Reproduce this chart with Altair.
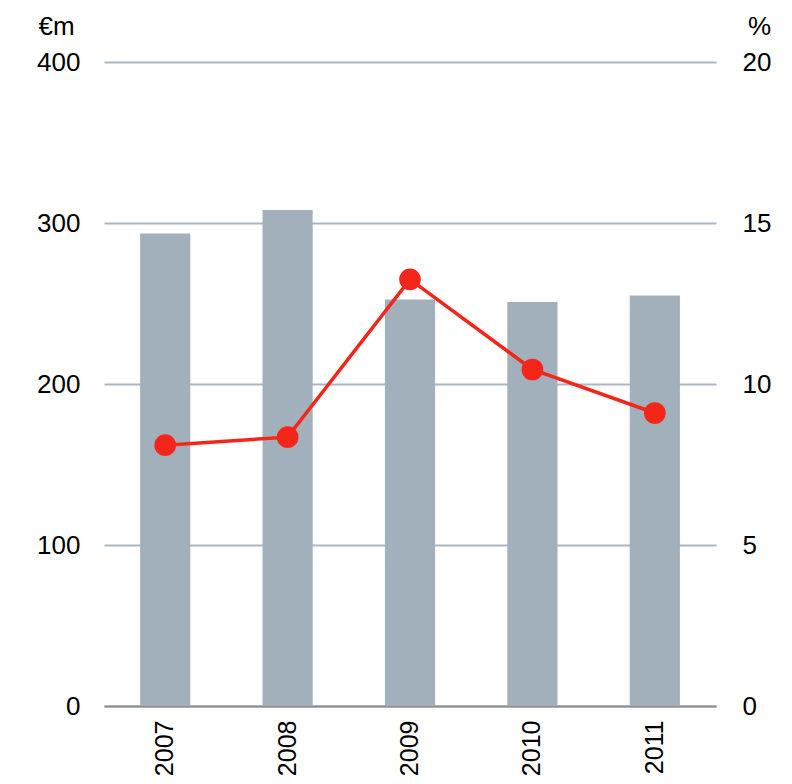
import altair as alt
import pandas as pd

years = ["2007", "2008", "2009", "2010", "2011"]
value_eur_m = [293.5, 308, 252.5, 251, 255]
margin_pct = [8.1, 8.35, 13.25, 10.45, 9.1]

df = pd.DataFrame({"year": years, "value": value_eur_m, "pct": margin_pct})

FONT = "Liberation Sans"
FS = 26

x = alt.X("year:N", title=None,
          scale=alt.Scale(paddingInner=0.59, paddingOuter=0.295),
          axis=alt.Axis(labelAngle=270, labelFontSize=25, labelFont=FONT, labelColor="#000000",
                        labelPadding=14, ticks=False, domain=True, domainColor="#8c8c8c",
                        domainWidth=2, grid=False))

bars = alt.Chart(df).mark_bar(color="#a2b0bc").encode(
    x=x,
    y=alt.Y("value:Q", scale=alt.Scale(domain=[0, 400], nice=False),
            axis=alt.Axis(values=[0, 100, 200, 300, 400], title="€m", titleAngle=0,
                          titleAlign="center", titleBaseline="alphabetic",
                          titleX=-48, titleY=-28, titleFontSize=FS, titleFont=FONT,
                          titleFontWeight="normal", titleColor="#000000",
                          labelFontSize=FS, labelFont=FONT, labelColor="#000000",
                          labelPadding=24, ticks=False, domain=False,
                          grid=True, gridColor="#a9b6c3", gridWidth=2))
)

line_y = alt.Y("pct:Q", scale=alt.Scale(domain=[0, 20], nice=False),
               axis=alt.Axis(values=[0, 5, 10, 15, 20], orient="right", title="%", titleAngle=0,
                             titleAlign="center", titleBaseline="alphabetic",
                             titleX=43, titleY=-28, titleFontSize=FS, titleFont=FONT,
                             titleFontWeight="normal", titleColor="#000000",
                             labelFontSize=FS, labelFont=FONT, labelColor="#000000",
                             labelPadding=26, ticks=False, domain=False, grid=False))

line = alt.Chart(df).mark_line(color="#f4261a", strokeWidth=3.5).encode(x=x, y=line_y)
points = alt.Chart(df).mark_point(filled=True, color="#f4261a", size=470, opacity=1).encode(x=x, y=line_y)

right = alt.layer(line, points)

chart = alt.layer(bars, right).resolve_scale(y="independent").properties(
    width=612, height=644,
    background="#ffffff",
    autosize=alt.AutoSizeParams(type="none"),
    padding={"left": 96, "top": 54, "right": 68, "bottom": 70},
).configure_view(strokeWidth=0, stroke="transparent")

chart.save("out.html", embed_options={"renderer": "svg", "actions": False})
